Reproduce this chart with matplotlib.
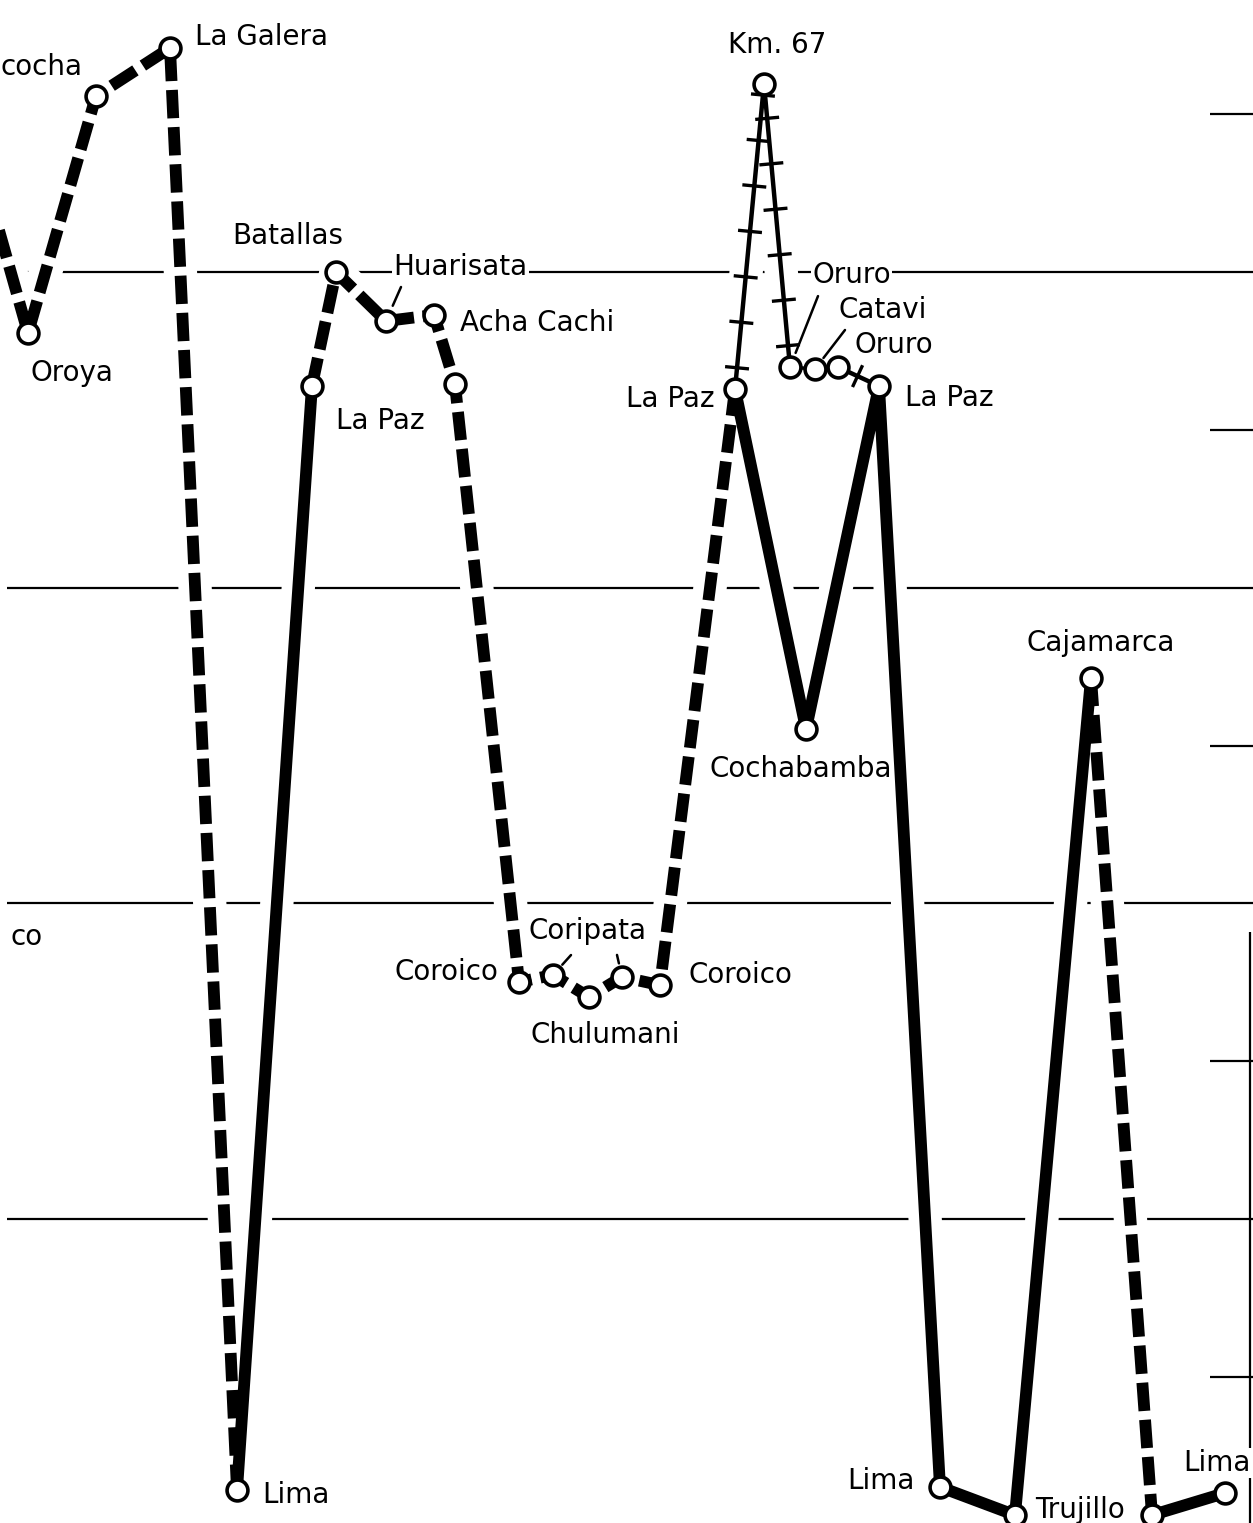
import matplotlib
matplotlib.use("Agg")
import matplotlib.pyplot as plt
import matplotlib.patheffects as pe

# stations along the itinerary: distance (arbitrary units) and altitude (m)
station_names = ["", "Oroya", "cocha", "La Galera", "Lima", "La Paz", "Batallas",
                 "Huarisata", "Acha Cachi", "La Paz", "Coroico", "Coripata",
                 "Chulumani", "Coripata", "Coroico", "La Paz", "Km. 67", "Oruro",
                 "Catavi", "Oruro", "La Paz", "Cochabamba", "Lima", "Trujillo",
                 "Cajamarca", "Trujillo", "Lima"]
station_x = [-2.0, 2.8, 9.6, 17.0, 23.7, 31.2, 33.6, 38.6, 43.4, 45.5, 51.9,
             55.3, 58.9, 62.2, 66.0, 73.5, 76.4, 79.0, 81.5, 83.8, 87.9, 80.6,
             94.0, 101.5, 109.1, 115.2, 122.5]
station_alt = [4345, 3807, 4558, 4710, 142, 3640, 4000, 3845, 3864, 3645, 1751,
               1773, 1703, 1767, 1741, 3629, 4596, 3699, 3693, 3699, 3639, 2552,
               151, 62, 2714, 62, 132]

# legs of the journey (indices into the station lists) and how they are drawn
route_styles = ["dash", "solid", "dash", "rail", "thin", "rail", "solid", "dash", "solid"]
route_stops = [
    [0, 1, 2, 3, 4],
    [4, 5],
    [5, 6, 7, 8, 9, 10, 11, 12, 13, 14, 15],
    [15, 16, 17],
    [17, 18, 19],
    [19, 20],
    [15, 21, 20, 22, 23, 24],
    [24, 25],
    [25, 26],
]

grid_alt = [1000, 2000, 3000, 4000]
minor_alt = [500, 1500, 2500, 3500, 4500]

# label: text, station, offset in pixels, alignment
labels = [
    ("cocha", 2, (-14, 29), "right"),
    ("La Galera", 3, (25, 11), "left"),
    ("Oroya", 1, (2, -40), "left"),
    ("Lima", 4, (25, -5), "left"),
    ("La Paz", 5, (24, -35), "left"),
    ("Batallas", 6, (-48, 36), "center"),
    ("Huarisata", 7, (7, 54), "left"),
    ("Acha Cachi", 8, (26, -8), "left"),
    ("Coroico", 10, (-21, 10), "right"),
    ("Coripata", 12, (-1, 66), "center"),
    ("Chulumani", 12, (16, -38), "center"),
    ("Coroico", 14, (28, 10), "left"),
    ("La Paz", 15, (-20, -10), "right"),
    ("Km. 67", 16, (13, 39), "center"),
    ("Oruro", 17, (22, 92), "left"),
    ("Catavi", 18, (23, 59), "left"),
    ("Oruro", 19, (17, 22), "left"),
    ("La Paz", 20, (26, -12), "left"),
    ("Cochabamba", 21, (-5, -40), "center"),
    ("Cajamarca", 24, (10, 35), "center"),
    ("Lima", 22, (-25, 6), "right"),
    ("Trujillo", 23, (20, 5), "left"),
    ("Lima", 26, (-42, 30), "left"),
]
# short leader strokes: station, start offset (px), gap before the circle (pt)
leaders = [(7, (15, 34), 12), (11, (18, 20), 10), (13, (-5, 22), 10),
           (17, (28, 71), 11), (18, (30, 39), 10)]

fig = plt.figure(figsize=(12.53, 15.23), dpi=100)
ax = fig.add_axes([0, 0, 1, 1])
ax.set_xlim(0, 125.3)
ax.set_ylim(37, 4862)
ax.axis("off")

ax.hlines(grid_alt, 0.7, 125.3, color="black", lw=1.6, zorder=1)
ax.hlines(minor_alt, 121.0, 125.3, color="black", lw=1.6, zorder=1)
ax.vlines(125.0, 0, 1909, color="black", lw=1.6, zorder=1)

for style, stops in zip(route_styles, route_stops):
    xs = [station_x[i] for i in stops]
    ys = [station_alt[i] for i in stops]
    halo = 10 if style == "thin" else 24
    ax.plot(xs, ys, color="white", lw=halo, solid_capstyle="round", zorder=2)
    if style == "dash":
        ax.plot(xs, ys, color="black", lw=8.5, ls=(0, (2.4, 0.75)),
                dash_capstyle="butt", dash_joinstyle="round", zorder=3)
    elif style == "solid":
        ax.plot(xs, ys, color="black", lw=8.5, solid_joinstyle="round", zorder=3)
    elif style == "rail":
        ties = [pe.TickedStroke(angle=a, spacing=31, length=0.24, linewidth=2.4)
                for a in (90, -90)]
        ax.plot(xs, ys, color="black", lw=3.2, zorder=3,
                path_effects=[pe.Normal()] + ties)
    else:
        ax.plot(xs, ys, color="black", lw=2.5, zorder=3)

ax.plot(station_x[1:], station_alt[1:], "o", ms=15, mfc="white", mec="black",
        mew=2.6, ls="none", zorder=5)

for text, idx, off, ha in labels:
    ax.annotate(text, (station_x[idx], station_alt[idx]), xytext=off,
                textcoords="offset pixels", ha=ha, va="center", fontsize=20,
                bbox=dict(facecolor="white", edgecolor="none", pad=1), zorder=2.5)

for idx, off, gap in leaders:
    ax.annotate("", (station_x[idx], station_alt[idx]), xytext=off,
                textcoords="offset pixels", zorder=2.5,
                arrowprops=dict(arrowstyle="-", lw=1.8, color="black",
                                shrinkA=0, shrinkB=gap))

ax.text(1.0, 1893, "co", ha="left", va="center", fontsize=20, zorder=2.5)

fig.savefig("out.png", dpi=100)
plt.close(fig)
